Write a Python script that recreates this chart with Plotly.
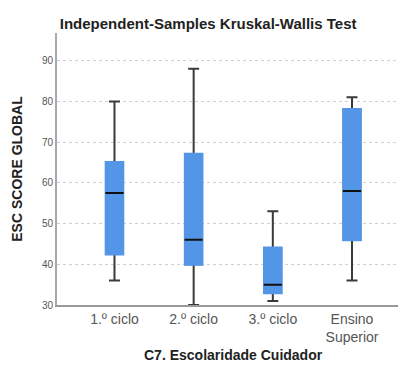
import plotly.graph_objects as go

categories = ["1.º ciclo", "2.º ciclo", "3.º ciclo", "Ensino<br>Superior"]
lower_whisker = [36, 30, 31, 36]
q1_values = [42.5, 40, 33, 46]
median_values = [57.5, 46, 35, 58]
q3_values = [65, 67, 44, 78]
upper_whisker = [80, 88, 53, 81]

BLUE = "#5395E6"
BOX_W = 0.21
WW = 0.66

fig = go.Figure()

# whiskers
fig.add_trace(go.Box(
    x=categories, q1=q1_values, median=median_values, q3=q3_values,
    lowerfence=lower_whisker, upperfence=upper_whisker,
    width=BOX_W, whiskerwidth=WW, fillcolor=BLUE,
    line=dict(color="#3a3a3a", width=2), hoverinfo="skip", showlegend=False,
))
# box body (covers the dark outline)
fig.add_trace(go.Box(
    x=categories, q1=q1_values, median=q1_values, q3=q3_values,
    lowerfence=q1_values, upperfence=q3_values,
    width=BOX_W, whiskerwidth=0, fillcolor=BLUE,
    line=dict(color=BLUE, width=3), hoverinfo="skip", showlegend=False,
))
# median line
fig.add_trace(go.Box(
    x=categories, q1=median_values, median=median_values, q3=median_values,
    lowerfence=median_values, upperfence=median_values,
    width=BOX_W + 0.02, whiskerwidth=0, fillcolor="rgba(0,0,0,0)",
    line=dict(color="#111111", width=2), hoverinfo="skip", showlegend=False,
))

fig.update_layout(
    width=406, height=365,
    margin=dict(l=49, r=5, t=25, b=68),
    paper_bgcolor="white", plot_bgcolor="white",
    boxmode="overlay",
    font=dict(family="Liberation Sans, Arial, sans-serif", color="#444"),
    title=dict(text="<b>Independent-Samples Kruskal-Wallis Test</b>",
               x=0.493, xanchor="center", yref="container", y=0.958, yanchor="middle",
               font=dict(size=15, color="#222")),
    xaxis=dict(
        type="category", range=[-0.726, 3.72],
        showgrid=False, zeroline=False,
        showline=True, linecolor="#9a9a9a", linewidth=2,
        ticks="", tickfont=dict(size=14, color="#555"),
    ),
    yaxis=dict(
        range=[30, 96.8], tickvals=[30, 40, 50, 60, 70, 80, 90],
        showgrid=True, gridcolor="#d0d0d0", griddash="dot", gridwidth=1,
        zeroline=False, showline=True, linecolor="#a8a8a8", linewidth=2,
        ticks="", tickfont=dict(size=10, color="#555"),
        title=dict(text="<b>ESC SCORE GLOBAL</b>", standoff=16,
                   font=dict(size=14, color="#222")),
    ),
    annotations=[dict(
        text="<b>C7. Escolaridade Cuidador</b>", xref="paper", yref="paper",
        x=0.5, y=-0.184, xanchor="center", yanchor="middle", showarrow=False,
        font=dict(size=14, color="#222"),
    )],
)

fig.write_html("out.html")
